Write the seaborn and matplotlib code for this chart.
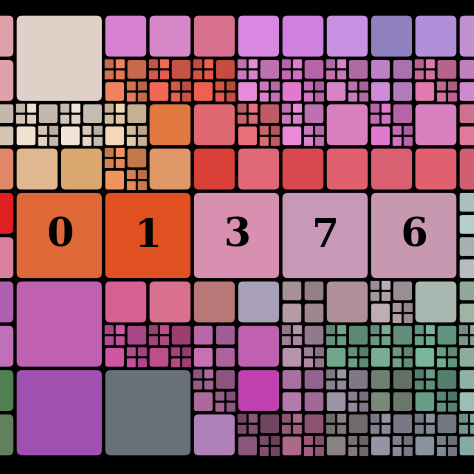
import numpy as np
import matplotlib
matplotlib.use("Agg")
import matplotlib.pyplot as plt
import matplotlib.colors as mcolors
from matplotlib.patches import FancyBboxPatch
import seaborn as sns

sns.set_style("white")

# big 2x2 blocks: (col, row, colour, label)
big_cols = [0, 0, 2, 4, 6, 8, 0, 0, 2]
big_rows = [0, 4, 4, 4, 4, 4, 6, 8, 8]
big_colors = ["#e0d0c8", "#e06838", "#e05020", "#d890b0", "#c898b8",
              "#c898b0", "#c060b0", "#a050b0", "#687078"]
big_labels = ["", "0", "1", "3", "7", "6", "", "", ""]

# single cells, columns -1..10, rows 0..9; "" = covered by a big block
cell_colors = [
    ["#e0a0a8", "", "", "#d880d0", "#d888c8", "#d87090", "#d888e0", "#d080e0", "#c890e0", "#9080c0", "#b090d8", "#c090d0"],
    ["#e0a0a8", "", "", "#e07858", "#e06050", "#e05848", "#d880c8", "#d070c0", "#c878b8", "#c080c8", "#d070a0", "#c080c0"],
    ["#e0d0c0", "#e0d0c0", "#e0d4c8", "#e0c8a8", "#e07840", "#e06870", "#d86870", "#d880c8", "#d880c0", "#d070c0", "#d880c0", "#d07090"],
    ["#e08868", "#e0b890", "#d8a870", "#e08858", "#e09868", "#d84038", "#e06878", "#d84850", "#e06070", "#d86070", "#e06070", "#d06070"],
    ["#e02020", "", "", "", "", "", "", "", "", "", "", "#a8c0c0"],
    ["#d880a0", "", "", "", "", "", "", "", "", "", "", "#a8b0b0"],
    ["#b060b0", "", "", "#d86090", "#d87090", "#b87878", "#a8a0b8", "#a89098", "#b09098", "#b0a0a8", "#a8b8b0", "#90a898"],
    ["#c070b8", "", "", "#c05098", "#b04880", "#b868a8", "#c060b0", "#a888a0", "#6a9a80", "#70a088", "#70a890", "#80a090"],
    ["#508050", "", "", "", "", "#a06090", "#c040b0", "#a870a0", "#908898", "#708070", "#60907c", "#90b0a8"],
    ["#608060", "", "", "", "", "#b080b8", "#805070", "#a06080", "#807878", "#8a8898", "#808890", "#78a098"],
]
cell_depth = [
    [0, 0, 0, 0, 0, 0, 0, 0, 0, 0, 0, 0],
    [0, 0, 0, 2, 2, 2, 2, 2, 2, 1, 2, 1],
    [1, 2, 2, 2, 0, 0, 2, 2, 0, 2, 0, 1],
    [0, 0, 0, 2, 0, 0, 0, 0, 0, 0, 0, 0],
    [0, 0, 0, 0, 0, 0, 0, 0, 0, 0, 0, 1],
    [0, 0, 0, 0, 0, 0, 0, 0, 0, 0, 0, 1],
    [0, 0, 0, 0, 0, 0, 0, 1, 0, 2, 0, 1],
    [0, 0, 0, 2, 2, 1, 0, 2, 2, 2, 2, 2],
    [0, 0, 0, 0, 0, 2, 0, 1, 2, 1, 2, 1],
    [0, 0, 0, 0, 0, 0, 2, 2, 2, 2, 2, 2],
]
shade = [1.0, 0.88, 1.08, 0.94]

S = 44.3
X0, Y0 = 15.0, 14.0

fig = plt.figure(figsize=(4.74, 4.74), dpi=100)
fig.patch.set_facecolor("black")
ax = fig.add_axes([0, 0, 1, 1])
ax.set_facecolor("black")
ax.set_xlim(0, 474)
ax.set_ylim(474, 0)
ax.axis("off")


def tint(c, f):
    r, g, b = mcolors.to_rgb(c)
    return (min(r * f, 1), min(g * f, 1), min(b * f, 1))


def box(x, y, w, h, color):
    gap = 1.0 if w > 20 else 0.6
    pad = min(w * 0.12, 6)
    ax.add_patch(FancyBboxPatch((x + gap + pad, y + gap + pad), w - 2 * gap - 2 * pad,
                                h - 2 * gap - 2 * pad,
                                boxstyle=f"round,pad={pad}", fc=color, ec="black",
                                lw=1.0 if w > 20 else 0.6))


def split(x, y, w, color, depth, k=0):
    if depth <= 0:
        box(x, y, w, w, color)
        return
    h = w / 2
    quads = [(x, y), (x + h, y), (x, y + h), (x + h, y + h)]
    for i, (qx, qy) in enumerate(quads):
        c = tint(color, shade[(i + k) % 4])
        d = depth - 1 if i in (0, 3) or depth == 1 else depth - 2
        split(qx, qy, h, c, d, k + i + 1)


for r in range(len(cell_colors)):
    for ci, col in enumerate(cell_colors[r]):
        if col == "":
            continue
        split(X0 + (ci - 1) * S, Y0 + r * S, S, col, cell_depth[r][ci])

for c, r, col, lab in zip(big_cols, big_rows, big_colors, big_labels):
    x, y = X0 + c * S, Y0 + r * S
    box(x, y, 2 * S, 2 * S, col)
    if lab:
        ax.text(x + S, y + S, lab, ha="center", va="center", fontsize=28,
                fontweight="bold", family="DejaVu Serif", color="black")

fig.savefig("out.png", dpi=100, facecolor="black")
